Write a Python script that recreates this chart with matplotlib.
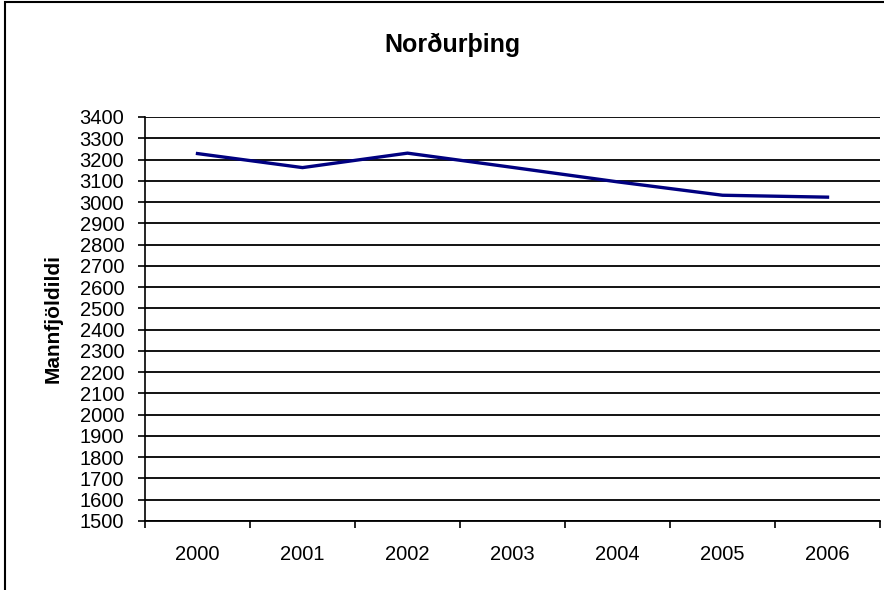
import matplotlib.pyplot as plt
from matplotlib.patches import Rectangle

# Mannfjöldi í Norðurþingi 2000-2006
years = ["2000", "2001", "2002", "2003", "2004", "2005", "2006"]
population = [3228, 3162, 3230, 3163, 3095, 3032, 3023]

plt.rcParams["font.family"] = ["Liberation Sans", "DejaVu Sans"]

fig = plt.figure(figsize=(8.84, 5.9), dpi=100)
ax = fig.add_axes([0.164, 0.117, 0.8315, 0.6847])

x = range(len(years))
ax.plot(x, population, color="#000080", lw=2.4, solid_joinstyle="miter")

ax.set_xlim(-0.5, len(years) - 0.5)
ax.set_ylim(1500, 3400)
ax.set_yticks(range(1500, 3401, 100))
ax.tick_params(axis="y", direction="out", length=5, width=1.2, labelsize=14.5, pad=10)
ax.set_xticks([i - 0.5 for i in range(len(years) + 1)])
ax.set_xticklabels([])
ax.set_xticks(list(x), minor=True)
ax.set_xticklabels(years, minor=True)
ax.tick_params(axis="x", which="major", direction="out", length=5, width=1.2)
ax.tick_params(axis="x", which="minor", length=0, labelsize=14.5, pad=17)

ax.yaxis.grid(True, color="black", lw=1.3)
ax.set_axisbelow(True)
for s in ["top", "right"]:
    ax.spines[s].set_visible(False)
ax.spines["left"].set_linewidth(1.2)
ax.spines["bottom"].set_linewidth(1.3)

ax.set_ylabel("Mannfjöldildi", fontsize=15, fontweight="bold", labelpad=12)
fig.text(0.512, 0.924, "Norðurþing", ha="center", va="center",
         fontsize=18, fontweight="bold")

# ramminn utan um myndina (skorinn af til hægri og neðst)
fig.patches.append(Rectangle((5 / 884, -0.1), 2, 1.1 - 2 / 590, transform=fig.transFigure,
                             fill=False, edgecolor="black", lw=1.5))

fig.savefig("out.png", dpi=100)
